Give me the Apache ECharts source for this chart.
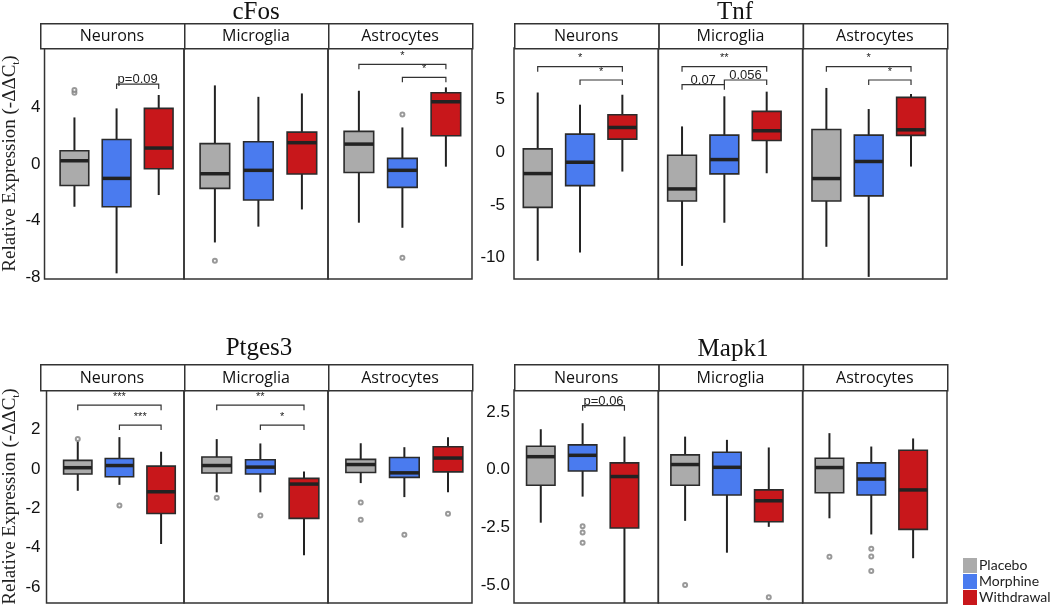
<!DOCTYPE html>
<html>
<head>
<meta charset="utf-8">
<title>Relative expression by cell type</title>
<script src="https://cdn.jsdelivr.net/npm/echarts@6/dist/echarts.min.js"></script>
<style>
    html, body { margin: 0; padding: 0; background: #fff; }
    #container { width: 1050px; height: 614px; }
</style>
</head>
<body>
<div id="container"></div>
<script>
var groups = ['Placebo', 'Morphine', 'Withdrawal'];
var cellTypes = ['Neurons', 'Microglia', 'Astrocytes'];
var genes = ['cFos', 'Tnf', 'Ptges3', 'Mapk1'];

// box stats: [low whisker, q1, median, q3, high whisker], by cell type then group
var cFosBoxes = [
    [[-3.03, -1.52, 0.23, 0.94, 3.30], [-7.75, -3.03, -1.02, 1.74, 3.94], [-2.20, -0.34, 1.13, 3.94, 4.89]],
    [[-5.56, -1.73, -0.69, 1.44, 5.57], [-4.44, -2.55, -0.45, 1.58, 4.76], [-3.22, -0.71, 1.51, 2.26, 5.00]],
    [[-4.16, -0.60, 1.41, 2.31, 5.19], [-4.52, -1.66, -0.45, 0.40, 2.59], [-0.19, 2.00, 4.41, 5.05, 5.43]]
];
var cFosOutliers = [[[5.05, 5.24], [], []], [[-6.86], [], []], [[], [3.51, -6.65], []]];
// [cell type, from group, to group, y, label]
var cFosBrackets = [[0, 1, 2, 5.66, 'p=0.09'], [2, 0, 2, 7.06, '*'], [2, 1, 2, 6.14, '*']];
var cFosTicks = [-8, -4, 0, 4];
var cFosRange = [-8.15, 8.22];

var tnfBoxes = [
    [[-10.28, -5.24, -2.05, 0.28, 5.60], [-9.50, -3.19, -0.98, 1.67, 4.45], [-1.86, 1.20, 2.30, 3.50, 5.39]],
    [[-10.76, -4.64, -3.50, -0.32, 2.40], [-6.69, -2.08, -0.73, 1.58, 5.24], [-2.02, 1.07, 1.99, 3.82, 5.68]],
    [[-8.96, -4.64, -2.52, 2.11, 6.03], [-11.80, -4.16, -0.91, 1.58, 4.04], [-1.39, 1.55, 2.08, 5.14, 5.46]]
];
var tnfOutliers = [[[], [], []], [[], [], []], [[], [], []]];
var tnfBrackets = [
    [0, 0, 2, 8.04, '*'], [0, 1, 2, 6.78, '*'],
    [1, 0, 2, 8.04, '**'], [1, 0, 1, 6.34, '0.07'], [1, 1, 2, 6.78, '0.056'],
    [2, 0, 2, 8.04, '*'], [2, 1, 2, 6.78, '*']
];
var tnfTicks = [-10, -5, 0, 5];
var tnfRange = [-12.0, 9.8];

var ptgesBoxes = [
    [[-1.11, -0.26, 0.06, 0.43, 1.39], [-0.81, -0.40, 0.17, 0.53, 1.61], [-3.81, -2.26, -1.16, 0.14, 0.87]],
    [[-1.19, -0.21, 0.17, 0.60, 1.51], [-1.19, -0.26, 0.09, 0.46, 1.29], [-4.38, -2.51, -0.77, -0.48, -0.13]],
    [[-0.72, -0.18, 0.22, 0.48, 1.30], [-1.43, -0.43, -0.20, 0.58, 1.10], [-1.19, -0.15, 0.55, 1.12, 1.61]]
];
var ptgesOutliers = [[[1.51], [-1.85], []], [[-1.46], [-2.36], []], [[-1.71, -2.58], [-3.34], [-2.27]]];
var ptgesBrackets = [[0, 0, 2, 3.23, '***'], [0, 1, 2, 2.22, '***'], [1, 0, 2, 3.23, '**'], [1, 1, 2, 2.22, '*']];
var ptgesTicks = [-6, -4, -2, 0, 2];
var ptgesRange = [-6.8, 4.0];

var mapkBoxes = [
    [[-2.30, -0.68, 0.56, 1.01, 1.75], [-1.17, -0.06, 0.62, 1.07, 2.01], [-5.78, -2.53, -0.30, 0.29, 1.43]],
    [[-2.22, -0.68, 0.22, 0.64, 1.43], [-3.60, -1.10, 0.10, 0.75, 1.29], [-2.48, -2.26, -1.35, -0.88, 0.96]],
    [[-2.11, -1.00, 0.09, 0.49, 1.58], [-2.81, -1.10, -0.41, 0.29, 1.00], [-3.84, -2.59, -0.88, 0.84, 1.35]]
];
var mapkOutliers = [[[], [-2.45, -2.72, -3.17], []], [[-5.00], [], [-5.53]], [[-3.78], [-3.43, -3.76, -4.39], []]];
var mapkBrackets = [[0, 1, 2, 2.77, 'p=0.06']];
var mapkTicks = [-5, -2.5, 0, 2.5];
var mapkRange = [-5.78, 3.45];

ChartModule = (function (window, document, echarts) {
    var groupColors = ['#ababab', '#4a7bef', '#c8171b'];
    var BOX_W = 0.68;
    var SANS = 'Liberation Sans';
    var SERIF = 'Liberation Serif';

    // panel frames (pixels) - one per gene
    var panels = [
        { boxes: cFosBoxes, outliers: cFosOutliers, brackets: cFosBrackets, ticks: cFosTicks, range: cFosRange, digits: 0,
          left: 40, right: 472, stripTop: 23, plotTop: 48, plotBottom: 279, titleX: 256, titleTop: 0, xRange: [0.29, 3.6], labelMargin: 4, yName: true },
        { boxes: tnfBoxes, outliers: tnfOutliers, brackets: tnfBrackets, ticks: tnfTicks, range: tnfRange, digits: 0,
          left: 514, right: 947, stripTop: 23, plotTop: 48, plotBottom: 279, titleX: 735, titleTop: 0, xRange: [0.44, 3.85], labelMargin: 9, yName: false },
        { boxes: ptgesBoxes, outliers: ptgesOutliers, brackets: ptgesBrackets, ticks: ptgesTicks, range: ptgesRange, digits: 0,
          left: 40, right: 472, stripTop: 364, plotTop: 390, plotBottom: 603, titleX: 259, titleTop: 336, xRange: [0.25, 3.55], labelMargin: 6, yName: true },
        { boxes: mapkBoxes, outliers: mapkOutliers, brackets: mapkBrackets, ticks: mapkTicks, range: mapkRange, digits: 1,
          left: 514, right: 947, stripTop: 364, plotTop: 390, plotBottom: 603, titleX: 733, titleTop: 337, xRange: [0.36, 3.81], labelMargin: 4, yName: false }
    ];

    var ChartClass = function () {
        this.init = function () {
            var chart = echarts.init(document.getElementById('container'), null, { renderer: 'canvas' });
            chart.setOption(this.buildOption());
        };
    };

    ChartClass.prototype = {
        renderBox: function (params, api) {
            var x = api.value(0);
            var lo = api.coord([x, api.value(1)]);
            var hi = api.coord([x, api.value(5)]);
            var q1 = api.coord([x - BOX_W / 2, api.value(2)]);
            var q3 = api.coord([x + BOX_W / 2, api.value(4)]);
            var mL = api.coord([x - BOX_W / 2, api.value(3)]);
            var mR = api.coord([x + BOX_W / 2, api.value(3)]);
            return {
                type: 'group',
                children: [{
                    type: 'line',
                    shape: { x1: lo[0], y1: lo[1], x2: hi[0], y2: hi[1] },
                    style: { stroke: '#222', lineWidth: 2 }
                }, {
                    type: 'rect',
                    shape: { x: q1[0], y: q3[1], width: q3[0] - q1[0], height: q1[1] - q3[1] },
                    style: { fill: api.visual('color'), stroke: '#2b2b2b', lineWidth: 1.6 }
                }, {
                    type: 'line',
                    shape: { x1: mL[0], y1: mL[1], x2: mR[0], y2: mR[1] },
                    style: { stroke: '#222', lineWidth: 3.5 }
                }]
            };
        },
        bracketRenderer: function (list) {
            return function (params, api) {
                var b = list[params.dataIndex];
                var p1 = api.coord([b[1] + 1, b[3]]);
                var p2 = api.coord([b[2] + 1, b[3]]);
                var star = /^\*+$/.test(b[4]);
                var drop = 5;
                return {
                    type: 'group',
                    children: [{
                        type: 'polyline',
                        shape: { points: [[p1[0], p1[1] + drop], [p1[0], p1[1]], [p2[0], p2[1]], [p2[0], p2[1] + drop]] },
                        style: { stroke: '#333', lineWidth: 1.2, fill: null }
                    }, {
                        type: 'text',
                        x: (p1[0] + p2[0]) / 2,
                        y: star ? p1[1] - 3 : p1[1] + 2,
                        style: {
                            text: b[4], align: 'center', verticalAlign: 'bottom',
                            fontFamily: SANS, fontSize: star ? 11 : 13, fill: '#222'
                        }
                    }]
                };
            };
        },
        buildOption: function () {
            var self = this;
            var grid = [], xAxis = [], yAxis = [], series = [], title = [], graphic = [];
            panels.forEach(function (p, pi) {
                var fw = (p.right - p.left) / 3;
                title.push({
                    text: genes[pi], left: p.titleX, top: p.titleTop, textAlign: 'center', padding: 0,
                    textStyle: { fontFamily: SERIF, fontSize: 25, fontWeight: 'normal', color: '#111' }
                });
                cellTypes.forEach(function (cell, ci) {
                    var gi = grid.length;
                    var gl = p.left + fw * ci;
                    grid.push({
                        left: gl, top: p.plotTop, width: fw, height: p.plotBottom - p.plotTop,
                        show: true, borderColor: '#333', borderWidth: 1.5, backgroundColor: 'transparent'
                    });
                    // facet strip
                    graphic.push({
                        type: 'rect', left: gl, top: p.stripTop, z: 10,
                        shape: { width: fw, height: p.plotTop - p.stripTop },
                        style: { fill: '#fff', stroke: '#333', lineWidth: 1.5 }
                    });
                    graphic.push({
                        type: 'text', x: gl + fw / 2, y: (p.stripTop + p.plotTop) / 2 + 1, z: 11,
                        style: { text: cell, align: 'center', verticalAlign: 'middle', fontFamily: 'Open Sans', fontSize: 16, fill: '#111' }
                    });
                    xAxis.push({
                        gridIndex: gi, type: 'value', min: p.xRange[0], max: p.xRange[1], show: false
                    });
                    var ya = {
                        gridIndex: gi, type: 'value', min: p.range[0], max: p.range[1],
                        show: ci === 0,
                        axisLine: { show: false }, axisTick: { show: false }, splitLine: { show: false },
                        axisLabel: {
                            customValues: p.ticks, margin: p.labelMargin, fontFamily: SANS, fontSize: 17, color: '#111',
                            formatter: (function (d) { return function (v) { return Number(v).toFixed(d); }; })(p.digits)
                        }
                    };
                    if (ci === 0 && p.yName) {
                        ya.name = '{a|Relative Expression (-ΔΔC}{s|t}{a|)}';
                        ya.nameLocation = 'middle';
                        ya.nameRotate = 90;
                        ya.nameGap = 19;
                        ya.nameTextStyle = {
                            rich: {
                                a: { fontFamily: SERIF, fontSize: 19, color: '#222', lineHeight: 22 },
                                s: { fontFamily: SERIF, fontSize: 11, color: '#222', verticalAlign: 'bottom', lineHeight: 22 }
                            }
                        };
                    }
                    yAxis.push(ya);
                    groups.forEach(function (g, k) {
                        var s = p.boxes[ci][k];
                        series.push({
                            name: g, type: 'custom', xAxisIndex: gi, yAxisIndex: gi,
                            itemStyle: { color: groupColors[k] },
                            encode: { x: 0, y: [1, 2, 3, 4, 5] },
                            renderItem: self.renderBox,
                            data: [[k + 1, s[0], s[1], s[2], s[3], s[4]]],
                            silent: true
                        });
                    });
                    var outs = [];
                    p.outliers[ci].forEach(function (list, k) {
                        list.forEach(function (v) { outs.push([k + 1, v]); });
                    });
                    series.push({
                        name: 'outliers', type: 'scatter', xAxisIndex: gi, yAxisIndex: gi,
                        symbol: 'emptyCircle', symbolSize: 4, z: 4,
                        itemStyle: { color: '#808080', borderWidth: 1 },
                        data: outs, silent: true
                    });
                    var br = p.brackets.filter(function (b) { return b[0] === ci; });
                    if (br.length) {
                        series.push({
                            name: 'brackets', type: 'custom', xAxisIndex: gi, yAxisIndex: gi,
                            renderItem: self.bracketRenderer(br),
                            data: br.map(function (b) { return [b[1] + 1, b[3]]; }),
                            silent: true, z: 5
                        });
                    }
                });
            });
            return {
                animation: false,
                backgroundColor: '#fff',
                title: title,
                grid: grid,
                xAxis: xAxis,
                yAxis: yAxis,
                graphic: graphic,
                legend: {
                    data: groups, orient: 'vertical', left: 963, top: 558, padding: 0,
                    icon: 'rect', itemWidth: 14, itemHeight: 15, itemGap: 1,
                    selectedMode: false,
                    textStyle: { fontFamily: 'Lato', fontSize: 14, color: '#222', padding: [0, 0, 0, -3] }
                },
                series: series
            };
        },
        constructor: ChartClass
    };
    return new ChartClass();
})(window, document, echarts);
ChartModule.init();
</script>
</body>
</html>
